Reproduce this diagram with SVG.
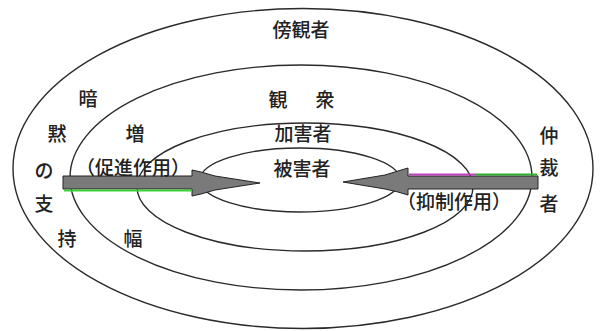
<svg xmlns="http://www.w3.org/2000/svg" width="601" height="331" viewBox="0 0 601 331">
<style>
.ring{fill:none;stroke:#2a2a2a;stroke-width:1.4}
.t{font-family:"Noto Sans CJK JP","Noto Sans CJK SC",sans-serif;font-size:19px;font-weight:500;fill:#222;text-anchor:middle;dominant-baseline:central}
.arrow{fill:#7a7a7a;stroke:#222;stroke-width:1}
</style>
<rect width="601" height="331" fill="#fff"/>
<g id="bystander">
<ellipse class="ring" cx="303" cy="168.5" rx="290" ry="160"/>
<text class="t" x="301" y="28">傍観者</text>
</g>
<g id="audience">
<ellipse class="ring" cx="301" cy="177.5" rx="231" ry="112.5"/>
<text class="t" x="278" y="98">観</text>
<text class="t" x="325" y="98">衆</text>
</g>
<g id="perpetrator">
<ellipse class="ring" cx="305" cy="187" rx="168" ry="64"/>
<text class="t" x="303" y="132">加害者</text>
</g>
<g id="victim">
<ellipse class="ring" cx="300" cy="180" rx="100" ry="32"/>
<text class="t" x="302" y="167">被害者</text>
</g>
<g id="silent-support">
<text class="t" x="88" y="97">暗</text>
<text class="t" x="57" y="132">黙</text>
<text class="t" x="44" y="169">の</text>
<text class="t" x="44" y="202">支</text>
<text class="t" x="67" y="237">持</text>
</g>
<g id="amplification">
<text class="t" x="135" y="132">増</text>
<text class="t" x="133" y="237">幅</text>
</g>
<g id="mediator">
<text class="t" x="549" y="134">仲</text>
<text class="t" x="549" y="166">裁</text>
<text class="t" x="549" y="202">者</text>
</g>
<g id="connectors">
<g id="promote">
<polygon class="arrow" points="63,176 192,176 192,170 201,172 215,176 260,183 215,190 201,194 192,196 192,189 63,189"/>
<line x1="64" y1="190.5" x2="192" y2="190.5" stroke="#3ad23a" stroke-width="2"/>
<text class="t" x="133" y="166">（促進作用）</text>
</g>
<g id="suppress">
<polygon class="arrow" points="538,176 408,176 408,168 398,171 385,175 343,182 385,189 398,192 408,195 408,189 538,189"/>
<line x1="409" y1="174.5" x2="475" y2="174.5" stroke="#c040c0" stroke-width="2"/>
<line x1="475" y1="174.5" x2="537" y2="174.5" stroke="#30b030" stroke-width="2"/>
<text class="t" x="454" y="200">（抑制作用）</text>
</g>
</g>
</svg>
